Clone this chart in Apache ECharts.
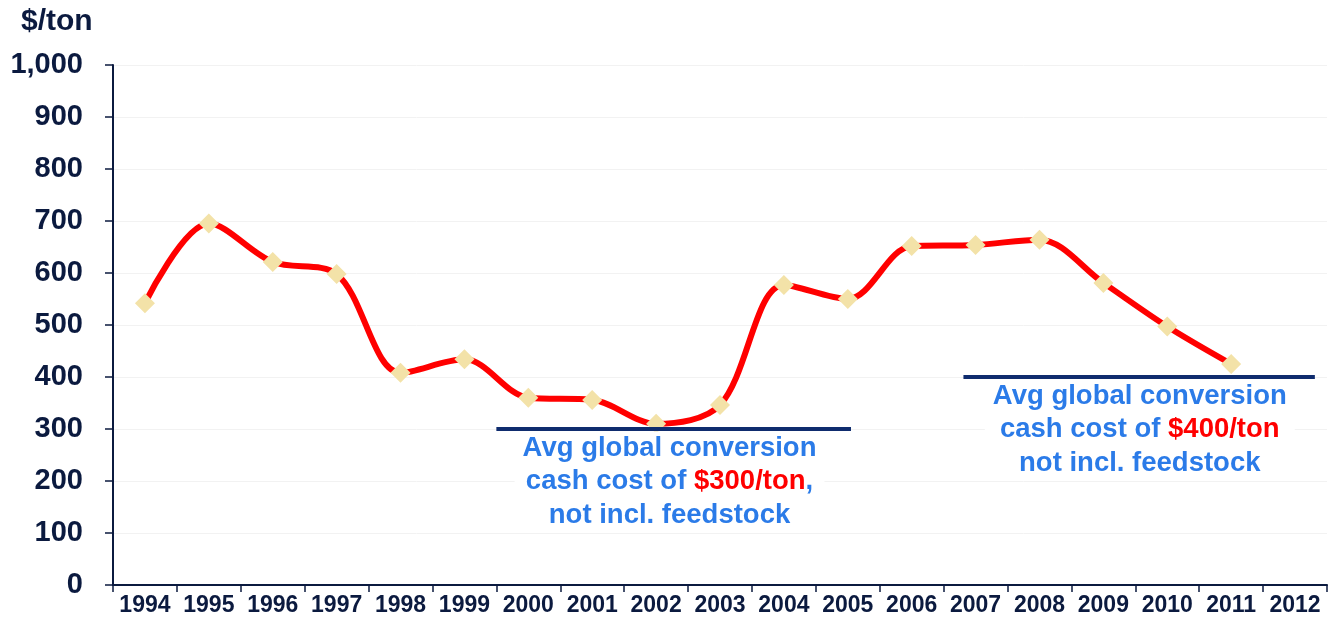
<!DOCTYPE html>
<html>
<head>
<meta charset="utf-8">
<script src="https://cdn.jsdelivr.net/npm/echarts@6/dist/echarts.min.js"></script>
<style>
  html, body { margin: 0; padding: 0; background: #fff; }
  #chart { width: 1336px; height: 631px; }
</style>
</head>
<body>
<div id="chart"></div>
<script>
// Annual conversion cost, $/ton
const years = ['1994','1995','1996','1997','1998','1999','2000','2001','2002','2003',
               '2004','2005','2006','2007','2008','2009','2010','2011','2012'];
const costs = [542, 695, 621, 598, 408, 434, 360, 356, 310, 346,
               577, 550, 652, 654, 664, 581, 497, 425, null];

// Average cash-cost reference levels and the span (in category units) each covers
const avgLevels = [300, 400];
const avgSpans = [[6.0, 11.55], [13.31, 18.81]];
const avgNoteX = [8.71, 16.07];
const avgNotes = [
  '{b|Avg global conversion}\n{b|cash cost of }{r|$300/ton}{b|,}\n{b|not incl. feedstock}',
  '{b|Avg global conversion}\n{b|cash cost of }{r|$400/ton}\n{b|not incl. feedstock}'
];

const yTicks = [0, 100, 200, 300, 400, 500, 600, 700, 800, 900, 1000];

const navy = '#0B1A3F';
const font = "'Liberation Sans', Arial, sans-serif";

const chart = echarts.init(document.getElementById('chart'));

const refSeries = avgLevels.map((lvl, i) => ({
  type: 'line',
  xAxisIndex: 1,
  data: [[avgSpans[i][0], lvl], [avgSpans[i][1], lvl]],
  symbol: 'none',
  lineStyle: { color: '#0F2C6E', width: 4 },
  z: 4,
  silent: true
}));

const noteSeries = avgLevels.map((lvl, i) => ({
  type: 'scatter',
  xAxisIndex: 1,
  data: [[avgNoteX[i], lvl]],
  symbolSize: 1,
  itemStyle: { color: 'rgba(0,0,0,0)', opacity: 1 },
  z: 5,
  silent: true,
  label: {
    show: true,
    position: 'bottom',
    distance: 2,
    formatter: avgNotes[i],
    backgroundColor: '#ffffff',
    padding: [0, 8, 0, 8],
    align: 'center',
    opacity: 1,
    rich: {
      b: { fontSize: 27.5, fontWeight: 'bold', color: '#2B7BE8', fontFamily: font, lineHeight: 33.5 },
      r: { fontSize: 27.5, fontWeight: 'bold', color: '#FF0000', fontFamily: font, lineHeight: 33.5 }
    }
  }
}));

chart.setOption({
  animation: false,
  backgroundColor: '#ffffff',
  title: {
    text: '$/ton',
    left: 16,
    top: 2,
    textStyle: { fontSize: 30, fontWeight: 'bold', color: navy, fontFamily: font }
  },
  grid: { left: 113, right: 9, top: 65, bottom: 46 },
  xAxis: [
    {
      type: 'category',
      data: years,
      boundaryGap: true,
      axisLine: { lineStyle: { color: navy, width: 2 } },
      axisTick: { show: true, length: 7, lineStyle: { color: navy, width: 1.5 } },
      axisLabel: { fontSize: 23, fontWeight: 'bold', color: navy, fontFamily: font, margin: 9, interval: 0 },
      splitLine: { show: false }
    },
    {
      type: 'value',
      min: 0,
      max: 19,
      show: false
    }
  ],
  yAxis: {
    type: 'value',
    min: yTicks[0],
    max: yTicks[yTicks.length - 1],
    interval: 100,
    axisLine: { show: true, lineStyle: { color: navy, width: 2 } },
    axisTick: { show: true, length: 8, lineStyle: { color: navy, width: 1.5 } },
    axisLabel: {
      fontSize: 29, fontWeight: 'bold', color: navy, fontFamily: font, margin: 30,
      formatter: v => v.toLocaleString('en-US')
    },
    splitLine: { show: true, lineStyle: { color: '#F2F2F2', width: 1 } }
  },
  series: [
    {
      type: 'line',
      data: costs,
      smooth: 0.33,
      symbol: 'diamond',
      symbolSize: 20,
      showSymbol: true,
      lineStyle: { color: '#FF0000', width: 6 },
      itemStyle: { color: '#F3E2A8', borderWidth: 0 },
      z: 3
    },
    ...refSeries,
    ...noteSeries
  ]
});
</script>
</body>
</html>
